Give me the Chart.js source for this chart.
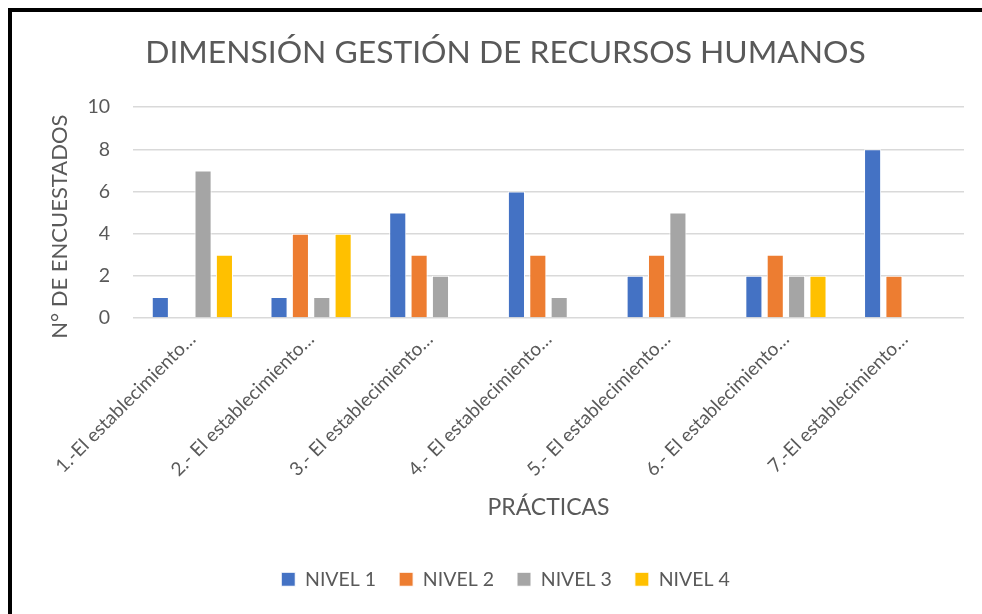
<!DOCTYPE html>
<html>
<head>
<meta charset="utf-8">
<script src="https://cdn.jsdelivr.net/npm/chart.js@4"></script>
<style>
  html, body { margin: 0; padding: 0; background: #fff; }
  #wrap { position: relative; width: 982px; height: 614px; overflow: hidden; }
  #frame { position: absolute; left: 8px; top: 8px; width: 1000px; height: 700px; border-left: 4px solid #000; border-top: 4px solid #000; box-sizing: border-box; }
  #c { position: absolute; left: 0; top: 0; }
</style>
</head>
<body>
<div id="wrap">
  <div id="frame"></div>
  <canvas id="c" width="982" height="614"></canvas>
</div>
<script>
const categories = [
  "1.-El establecimiento…",
  "2.- El establecimiento…",
  "3.- El establecimiento…",
  "4.- El establecimiento…",
  "5.- El establecimiento…",
  "6.- El establecimiento…",
  "7.-El establecimiento…"
];
const seriesNames = ["NIVEL 1", "NIVEL 2", "NIVEL 3", "NIVEL 4"];
const nivel1 = [1, 1, 5, 6, 2, 2, 8];
const nivel2 = [0, 4, 3, 3, 3, 3, 2];
const nivel3 = [7, 1, 2, 1, 5, 2, 0];
const nivel4 = [3, 4, 0, 0, 0, 2, 0];
const colors = ["#4472C4", "#ED7D31", "#A5A5A5", "#FFC000"];
const yTicks = [0, 2, 4, 6, 8, 10];

const fontFam = "Lato, 'Open Sans', sans-serif";
const txt = "#595959";

const datasets = [nivel1, nivel2, nivel3, nivel4].map((d, i) => ({
  label: seriesNames[i],
  data: d,
  backgroundColor: colors[i],
  borderColor: "#ffffff",
  borderWidth: 1,
  categoryPercentage: 0.72,
  barPercentage: 0.8
}));

new Chart(document.getElementById("c"), {
  type: "bar",
  data: { labels: categories, datasets },
  options: {
    responsive: false,
    animation: false,
    layout: { padding: { left: 47, right: 18, top: 34, bottom: 15 } },
    plugins: {
      title: {
        display: true,
        text: "DIMENSIÓN GESTIÓN DE RECURSOS HUMANOS",
        color: txt,
        font: { family: fontFam, size: 31.8, weight: "normal" },
        padding: { top: 0, bottom: 35 }
      },
      legend: {
        position: "bottom",
        labels: {
          color: txt,
          font: { family: fontFam, size: 19.5 },
          boxWidth: 14,
          boxHeight: 14,
          padding: 23
        }
      },
      tooltip: { enabled: false }
    },
    scales: {
      x: {
        grid: { display: false },
        border: { display: false },
        ticks: {
          color: txt,
          font: { family: fontFam, size: 19 },
          minRotation: 45,
          maxRotation: 45,
          autoSkip: false,
          padding: 2
        },
        title: {
          display: true,
          text: "PRÁCTICAS",
          color: txt,
          font: { family: fontFam, size: 23 },
          padding: { top: 11, bottom: 25 }
        }
      },
      y: {
        min: 0,
        max: 10,
        afterBuildTicks: (axis) => { axis.ticks = yTicks.map(v => ({ value: v })); },
        grid: { color: "#d9d9d9", lineWidth: 1.5, drawTicks: false },
        border: { display: false },
        ticks: {
          color: txt,
          font: { family: fontFam, size: 19.5 },
          padding: 23
        },
        title: {
          display: true,
          text: "N° DE ENCUESTADOS\u00A0\u00A0\u00A0\u00A0\u00A0",
          color: txt,
          font: { family: fontFam, size: 22 },
          padding: { top: 0, bottom: -9 }
        }
      }
    }
  }
});
</script>
</body>
</html>
